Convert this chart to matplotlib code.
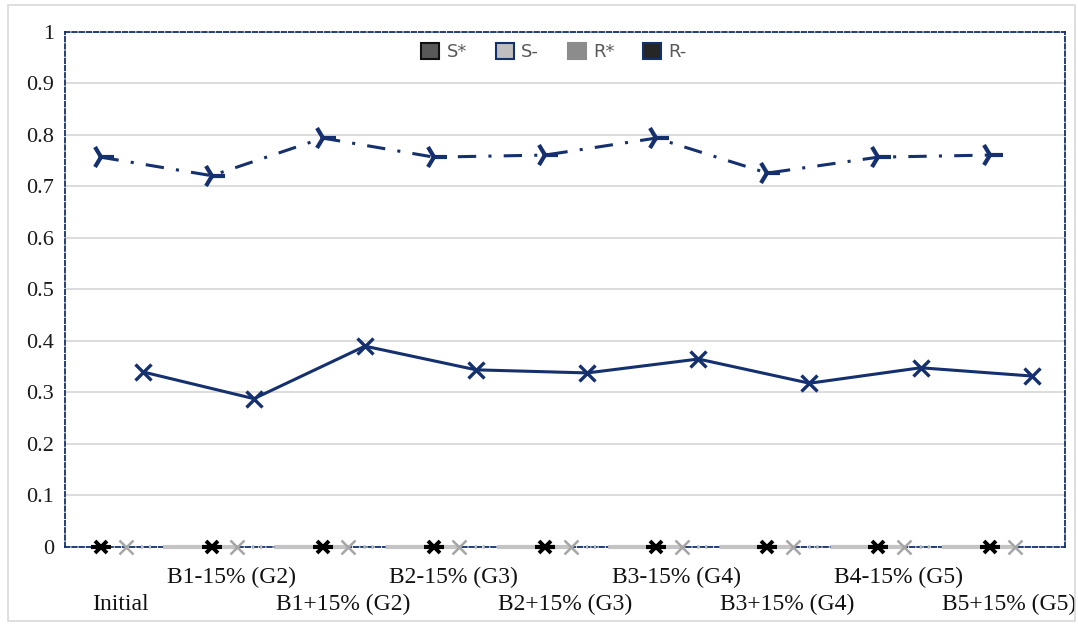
import matplotlib.pyplot as plt
from matplotlib.patches import Patch, Rectangle
import numpy as np

categories = ["Initial", "B1-15% (G2)", "B1+15% (G2)", "B2-15% (G3)", "B2+15% (G3)",
              "B3-15% (G4)", "B3+15% (G4)", "B4-15% (G5)", "B5+15% (G5)"]
s_minus = [0.757, 0.721, 0.794, 0.757, 0.761, 0.794, 0.726, 0.757, 0.761]
r_minus = [0.340, 0.288, 0.390, 0.344, 0.338, 0.365, 0.318, 0.348, 0.332]
s_star = [0, 0, 0, 0, 0, 0, 0, 0, 0]
r_star = [0, 0, 0, 0, 0, 0, 0, 0, 0]

NAVY = "#14306e"
serif = "Liberation Serif"

fig = plt.figure(figsize=(10.78, 6.26), dpi=100)
ax = fig.add_axes([0.0603, 0.1262, 0.9277, 0.8227])

x = np.arange(len(categories))

# zero-valued series along the bottom
ax.plot(x + 0.05, r_star, color="#c4c4c4", lw=3, marker="x", ms=10, mew=1.8,
        mec="#a6a6a6", ls=(17.8, (17.8, 3.6, 0.5, 1.4, 0.5, 2.9)),
        clip_on=False, zorder=3)
ax.plot(x - 0.18, s_star, ls="none", marker="x", ms=9, mew=2.8, color="black",
        clip_on=False, zorder=4)
ax.plot(x - 0.18, s_star, ls="none", marker="_", ms=15, mew=3, color="black",
        clip_on=False, zorder=4)

# main series
ax.plot(x - 0.18, s_minus, color=NAVY, lw=2.2, dashes=[6, 4, 1, 4],
        marker="4", ms=18, mew=3, zorder=5)
ax.plot(x + 0.2, r_minus, color=NAVY, lw=2.2, marker="x", ms=11, mew=2.4, zorder=5)

ax.set_xlim(-0.5, len(categories) - 0.5)
ax.set_ylim(0, 1)
ax.set_yticks(np.arange(0, 1.01, 0.1))
ax.set_yticklabels(["0", "0.1", "0.2", "0.3", "0.4", "0.5", "0.6", "0.7", "0.8", "0.9", "1"],
                   fontsize=16, family=serif, color="#1a1a1a")
ax.tick_params(axis="y", length=0, pad=8)
ax.set_xticks([])
ax.grid(axis="y", color="#d9d9d9", lw=1.3)
ax.set_axisbelow(True)

for sp in ax.spines.values():
    sp.set_color(NAVY)
    sp.set_linestyle((0, (2.5, 1.5)))
    sp.set_linewidth(1.3)

# staggered category labels
for i, lab in enumerate(categories):
    ypos = -0.111 if i % 2 == 0 else -0.060
    ax.text(i, ypos, lab, transform=ax.get_xaxis_transform(), ha="center", va="center",
            fontsize=17, family=serif, color="#111111")

handles = [
    Patch(facecolor="#595959", edgecolor="#111111", lw=1.5, label="S*"),
    Patch(facecolor="#bfbfbf", edgecolor=NAVY, lw=1.5, label="S-"),
    Patch(facecolor="#8c8c8c", edgecolor="#8c8c8c", lw=1.5, label="R*"),
    Patch(facecolor="#262626", edgecolor=NAVY, lw=1.5, label="R-"),
]
leg = ax.legend(handles=handles, loc="center", bbox_to_anchor=(0.489, 0.961), ncol=4,
                frameon=False, handlelength=1.0, handleheight=1.0, handletextpad=0.4,
                columnspacing=1.6, prop={"family": "DejaVu Sans", "size": 13})
for t in leg.get_texts():
    t.set_color("#595959")

fig.patches.append(Rectangle((0.007, 0.008), 0.99, 0.984, transform=fig.transFigure,
                             fill=False, edgecolor="#d9d9d9", lw=1.2))

fig.savefig("out.png", dpi=100)
